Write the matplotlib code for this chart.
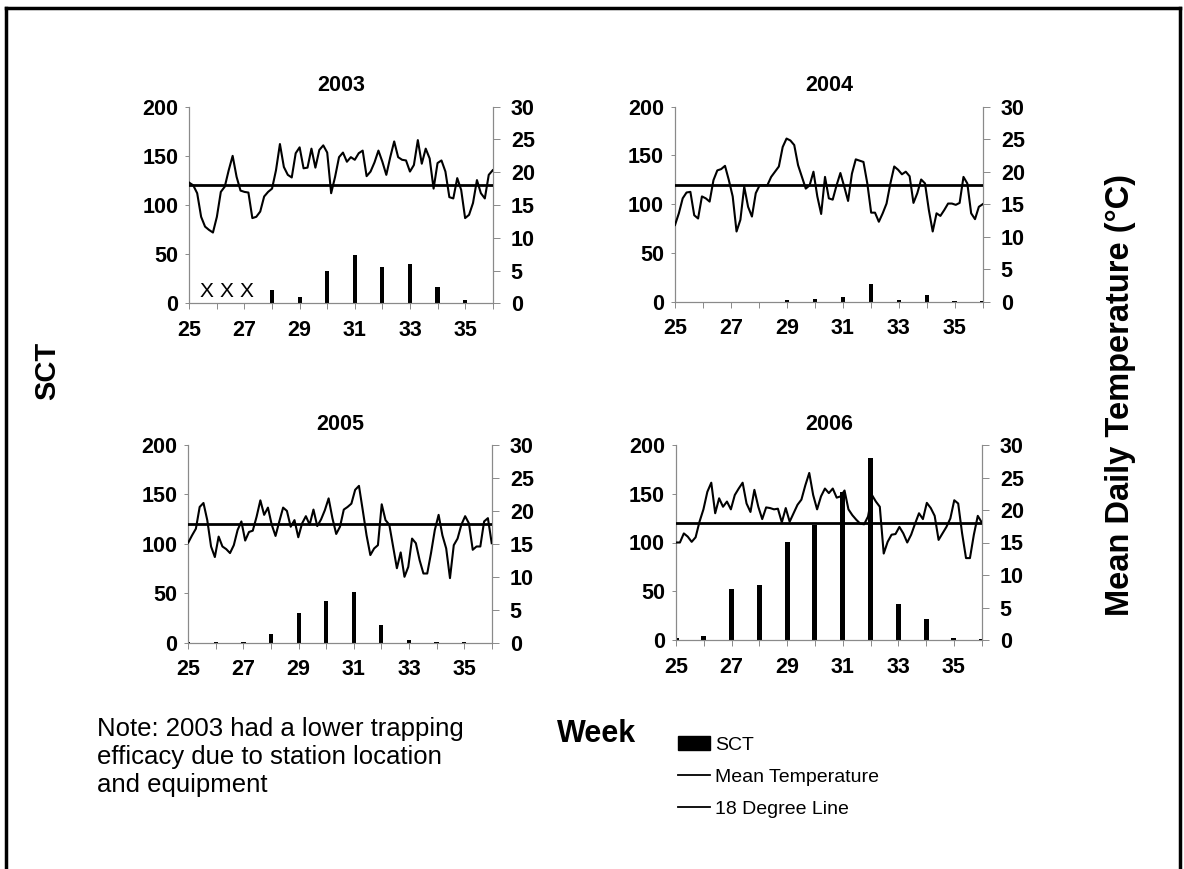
import numpy as np
import matplotlib
matplotlib.use("Agg")
import matplotlib.pyplot as plt
from matplotlib.lines import Line2D
from matplotlib.patches import Patch

plt.rcParams['font.family'] = ['Liberation Sans', 'DejaVu Sans']

weeks = list(range(25, 37))
tick_labels = ['25', '', '27', '', '29', '', '31', '', '33', '', '35', '']

# SCT weekly trap counts (left axis)
sct_2003 = [0, 0, 0, 14, 6, 33, 49, 37, 40, 17, 3, 0]
sct_2004 = [0, 0, 0, 0, 2, 3, 5, 18, 2, 6.5, 1, 1]
sct_2005 = [1, 0.5, 0.5, 9, 30, 42, 51, 18, 3, 1, 0.5, 0]
sct_2006 = [2.5, 4, 52, 56, 101, 118, 152, 187, 37, 22, 2, 1]

# Mean daily temperature (right axis, deg C), daily from week 25 to week 36
temp_2003 = [18.4, 18.0, 16.8, 13.2, 11.7, 11.2, 10.8, 13.2, 17.0, 17.8, 20.3, 22.5,
             19.3, 17.2, 17.0, 16.9, 13.0, 13.2, 14.0, 16.3, 17.0, 17.5, 20.3, 24.3,
             20.8, 19.6, 19.2, 22.9, 23.8, 20.6, 20.7, 23.6, 20.7, 23.4, 24.1, 23.0,
             16.8, 19.3, 22.3, 23.0, 21.6, 22.3, 21.9, 22.9, 23.3, 19.4, 20.1, 21.5,
             23.3, 21.6, 19.6, 22.3, 24.7, 22.3, 21.9, 21.8, 20.1, 21.1, 24.9, 21.3,
             23.6, 22.1, 17.5, 21.4, 21.8, 20.1, 16.2, 16.0, 19.1, 17.3, 13.0, 13.5,
             15.3, 18.8, 16.8, 16.0, 19.6, 20.3]
temp_2004 = [11.8, 13.6, 15.9, 16.8, 16.9, 13.3, 12.8, 16.2, 15.9, 15.4, 18.7, 20.2,
             20.4, 20.9, 18.7, 16.2, 10.8, 12.6, 17.7, 14.6, 13.1, 16.7, 17.9, 17.9,
             17.9, 19.2, 20.0, 20.8, 23.8, 25.1, 24.8, 24.1, 21.0, 19.2, 17.4, 17.9,
             20.0, 16.2, 13.5, 19.2, 15.9, 15.7, 17.9, 19.8, 17.7, 15.5, 19.7, 21.9,
             21.7, 21.5, 18.2, 13.7, 13.7, 12.3, 13.6, 15.1, 18.2, 20.8, 20.3, 19.6,
             20.0, 19.3, 15.2, 16.7, 18.8, 18.2, 14.1, 10.8, 13.6, 13.2, 14.1, 15.1,
             15.1, 14.9, 15.2, 19.2, 18.2, 13.6, 12.7, 14.6, 15.0]
temp_2005 = [15.2, 16.3, 17.3, 20.6, 21.2, 18.6, 14.6, 13.0, 16.1, 14.6, 14.2, 13.6,
             14.8, 17.1, 18.4, 15.5, 16.8, 17.0, 19.1, 21.6, 19.4, 20.5, 17.9, 16.2,
             18.4, 20.5, 20.0, 17.6, 18.6, 16.0, 18.1, 19.2, 17.9, 20.2, 17.7, 18.7,
             20.1, 21.9, 18.9, 16.5, 17.6, 20.2, 20.6, 21.1, 23.2, 23.8, 20.1, 16.3,
             13.3, 14.3, 14.8, 21.0, 18.6, 17.9, 14.6, 11.3, 13.7, 10.0, 11.5, 15.8,
             15.1, 12.5, 10.5, 10.5, 13.6, 17.1, 19.4, 16.3, 14.3, 9.8, 14.8, 15.8,
             17.9, 19.2, 18.1, 14.1, 14.6, 14.6, 18.4, 18.9, 15.1]
temp_2006 = [15.0, 15.0, 16.4, 15.9, 15.1, 15.8, 18.2, 20.1, 22.8, 24.2, 19.5, 21.8,
             20.5, 21.3, 20.1, 22.3, 23.3, 24.2, 21.0, 19.7, 23.1, 20.5, 18.6, 20.4,
             20.3, 20.1, 20.2, 18.1, 20.3, 18.2, 19.5, 20.8, 21.6, 23.8, 25.7, 22.3,
             20.1, 22.1, 23.3, 22.6, 23.3, 21.9, 22.1, 23.0, 20.1, 19.2, 18.5, 17.9,
             17.8, 19.0, 22.3, 21.3, 20.5, 13.3, 15.1, 16.2, 16.3, 17.4, 16.4, 15.0,
             16.2, 17.9, 19.5, 18.6, 21.1, 20.3, 19.1, 15.4, 16.4, 17.4, 18.7, 21.5,
             21.0, 16.4, 12.6, 12.6, 16.2, 19.1, 18.1]

threshold = 18
years = ['2003', '2004', '2005', '2006']
sct_all = [sct_2003, sct_2004, sct_2005, sct_2006]
temp_all = [temp_2003, temp_2004, temp_2005, temp_2006]
bar_widths = [0.15, 0.16, 0.15, 0.18]
missing_marks_2003 = [25.63, 26.33, 27.08]

W, H = 1184, 869
fig = plt.figure(figsize=(W / 100, H / 100), dpi=100)
fig.patch.set_facecolor('white')

# axes rectangles in pixels: left, right, top(200), bottom(0)
rects_px = [(189.3, 492.7, 106.7, 303.3),
            (675.0, 982.7, 106.7, 301.7),
            (188.3, 491.7, 445.0, 642.7),
            (676.0, 981.7, 445.0, 640.0)]

spine_col = '#8a8a8a'
for i, (yr, sct, temp, bw) in enumerate(zip(years, sct_all, temp_all, bar_widths)):
    l, r, t, b = rects_px[i]
    ax = fig.add_axes([l / W, 1 - b / H, (r - l) / W, (b - t) / H])
    ax.bar(weeks, sct, width=bw, color='black', zorder=3)
    ax.set_xlim(25, 36)
    ax.set_ylim(0, 200)
    ax.set_yticks([0, 50, 100, 150, 200])
    ax.set_xticks(weeks)
    ax.set_xticklabels(tick_labels)
    ax.patch.set_alpha(0)
    ax.spines['top'].set_visible(False)
    for s in ['left', 'right', 'bottom']:
        ax.spines[s].set_color(spine_col)
        ax.spines[s].set_linewidth(0.8)
    ax.tick_params(axis='y', direction='out', length=3, width=0.7, color=spine_col,
                   pad=5, labelsize=15.5)
    ax.tick_params(axis='x', direction='out', length=4, width=0.7, color=spine_col,
                   pad=8, labelsize=15.5)
    for lab in ax.get_xticklabels() + ax.get_yticklabels():
        lab.set_fontweight('bold')
    ax.set_title(yr, fontsize=15.5, fontweight='bold', pad=11)

    ax2 = ax.twinx()
    days = np.linspace(25, 36, len(temp))
    ax2.plot(days, temp, color='black', lw=1.5, zorder=4)
    ax2.axhline(threshold, color='black', lw=2.0, zorder=4)
    ax2.set_ylim(0, 30)
    ax2.set_yticks([0, 5, 10, 15, 20, 25, 30])
    ax2.spines['top'].set_visible(False)
    for s in ['left', 'right', 'bottom']:
        ax2.spines[s].set_color(spine_col)
        ax2.spines[s].set_linewidth(0.8)
    ax2.tick_params(axis='y', direction='out', length=5, width=0.7, color=spine_col,
                    pad=8, labelsize=15.5)
    for lab in ax2.get_yticklabels():
        lab.set_fontweight('bold')

    if yr == '2003':
        for xm in missing_marks_2003:
            ax.text(xm, 12, 'X', ha='center', va='center', fontsize=15)

# Axis labels
fig.text(47 / W, 1 - 371 / H, 'SCT', rotation=90, ha='center', va='center',
         fontsize=21, fontweight='bold')
fig.text(1121 / W, 1 - 395 / H, 'Mean Daily Temperature (°C)', rotation=90,
         ha='center', va='center', fontsize=23.5, fontweight='bold')
fig.text(597 / W, 1 - 734 / H, 'Week', ha='center', va='center',
         fontsize=22, fontweight='bold')

# Note
fig.text(97 / W, 1 - 717 / H,
         'Note: 2003 had a lower trapping\nefficacy due to station location\nand equipment',
         ha='left', va='top', fontsize=18.5, linespacing=1.2)

# Legend
handles = [Patch(facecolor='black', edgecolor='black'),
           Line2D([], [], color='black', lw=1.3),
           Line2D([], [], color='black', lw=1.3)]
fig.legend(handles, ['SCT', 'Mean Temperature', '18 Degree Line'],
           loc='upper left', bbox_to_anchor=(678 / W, 1 - 736 / H),
           frameon=False, fontsize=14, handlelength=1.65, handleheight=0.75,
           handletextpad=0.25, labelspacing=0.72, borderaxespad=0, borderpad=0)

# Page frame (left, top, right)
frame_kw = dict(color='black', lw=2.5, transform=fig.transFigure)
fig.add_artist(Line2D([6 / W, 6 / W], [0, 1 - 8 / H], **frame_kw))
fig.add_artist(Line2D([6 / W, 1180 / W], [1 - 8 / H, 1 - 8 / H], **frame_kw))
fig.add_artist(Line2D([1180 / W, 1180 / W], [0, 1 - 8 / H], **frame_kw))

fig.savefig('out.png', dpi=100, facecolor='white')
